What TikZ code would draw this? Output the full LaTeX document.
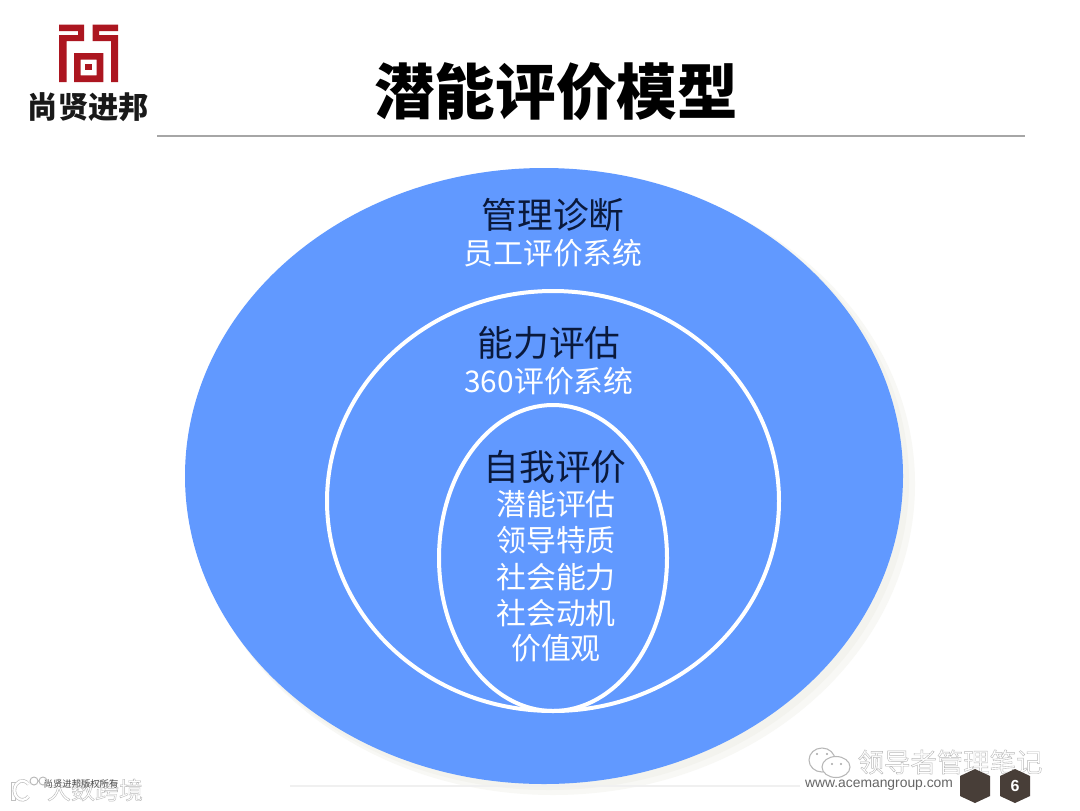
\documentclass[tikz,border=0pt]{standalone}
\usepackage{fontspec}
\setmainfont{Liberation Sans}
\newfontfamily\cjk{Noto Sans CJK SC}
\definecolor{bluefill}{RGB}{97,153,255}
\definecolor{navy}{RGB}{10,25,60}
\definecolor{logored}{RGB}{172,22,32}
\definecolor{hexdark}{RGB}{72,62,56}
\definecolor{wmgray}{RGB}{165,165,165}
\definecolor{cream}{RGB}{243,243,238}
\newcommand{\outlined}[1]{\special{pdf:code 2 Tr 0.3 w 0.72 G 1 g}#1\special{pdf:code 0 Tr}}
\tikzset{
  headtext/.style={font=\cjk\fontsize{26.8}{30}\selectfont,text=navy,inner sep=0pt},
  subtext/.style={font=\cjk\fontsize{22.4}{26}\selectfont,text=white,inner sep=0pt},
  ring/.style={draw=white,line width=3pt,fill=none},
  hexa/.style={fill=hexdark,draw=none},
  wmtext/.style={font=\cjk\fontsize{19.8}{24}\selectfont,text=white,inner sep=0pt},
  bubble/.style={draw=wmgray!80,fill=white,line width=.8pt},
}
\begin{document}
\begin{tikzpicture}[x=0.75pt,y=-0.75pt]
\useasboundingbox (0,0) rectangle (1080,810);
\fill[white] (0,0) rectangle (1080,810);
% logo
\fill[logored] (59,24.7) rectangle (84,31) (78,24.7) rectangle (84,41) (59,35) rectangle (84,41) (59,35) rectangle (66.5,82);
\fill[logored] (92.7,24.7) rectangle (118,31) (92.7,24.7) rectangle (99,41) (92.7,35) rectangle (118,41) (111,35) rectangle (118,82);
\fill[logored,even odd rule] (74,53) rectangle (103.3,82) (80.7,59.7) rectangle (96.7,75.3);
\fill[logored] (85.3,64) rectangle (91.7,69.7);
\node[inner sep=0pt,font=\cjk\bfseries\fontsize{22.7}{24}\selectfont,text=black!90] (brand) at (88.5,107) {尚贤进邦};
% title
\node[inner sep=0pt,font=\cjk\bfseries\fontsize{45.4}{50}\selectfont,text=black] (title) at (556,92) {潜能评价模型};
\draw[gray!70,line width=1.3pt] (157,136) -- (1025,136);
% shadow + circles
\fill[cream!60] (553,484) ellipse [x radius=362,y radius=311];
\fill[cream] (549,481) ellipse [x radius=360,y radius=309];
\fill[bluefill] (544,476) ellipse [x radius=359,y radius=308];
\draw[ring] (553,501) ellipse [x radius=226,y radius=210];
\draw[ring] (553,558) ellipse [x radius=114,y radius=153];
% labels
\node[headtext] (a1) at (553,215) {管理诊断};
\node[subtext] (a2) at (553,253) {员工评价系统};
\node[headtext] (b1) at (549,343) {能力评估};
\node[subtext] (b2) at (549,381) {360评价系统};
\node[headtext] (c1) at (555,467) {自我评价};
\node[subtext] (c2) at (556,504) {潜能评估};
\node[subtext] (c3) at (556,540) {领导特质};
\node[subtext] (c4) at (556,577) {社会能力};
\node[subtext] (c5) at (556,613) {社会动机};
\node[subtext] (c6) at (556,648) {价值观};
% footer
\draw[black!6,line width=1pt] (290,786) -- (800,786);
\node[wmtext,font=\cjk\fontsize{18}{20}\selectfont] (wm1) at (95,790) {\outlined{大数跨境}};
\node[inner sep=0pt,font=\cjk\fontsize{7}{8}\selectfont,text=black!70] (copy) at (81,784) {尚贤进邦版权所有};
\draw[wmgray!70,fill=white,line width=.6pt] (11,782) rectangle (15,800);
\draw[wmgray!70,line width=2.6pt] (28.5,796.4) arc (40:320:8 and 9.5);
\draw[white,line width=1.6pt] (28.5,796.4) arc (40:320:8 and 9.5);
\draw[wmgray!80,line width=.7pt] (34,781) circle [radius=4] (43,781) circle [radius=4];
\node[inner sep=0pt,font=\fontsize{10.4}{12}\selectfont,text=black!60] (web) at (879,785) {www.acemangroup.com};
\node[wmtext] (wc1) at (950,762) {\outlined{领导者管理笔记}};
% wechat icon
\draw[bubble] (822,760) ellipse [x radius=13,y radius=12];
\draw[bubble] (836,767) ellipse [x radius=14,y radius=10.5];
\fill[wmgray] (817,754) circle [radius=1.1] (827,754) circle [radius=1.1];
\fill[wmgray] (832,764) circle [radius=1.2] (841,764) circle [radius=1.2];
% hexagons
\fill[hexa] (975,769) -- (990,776) -- (990,796) -- (975,803) -- (960,796) -- (960,776) -- cycle;
\fill[hexa] (1015,769) -- (1030,776) -- (1030,796) -- (1015,803) -- (1000,796) -- (1000,776) -- cycle;
\node[inner sep=0pt,font=\bfseries\fontsize{12}{14}\selectfont,text=white] (pg) at (1015,786) {6};
\end{tikzpicture}
\end{document}
